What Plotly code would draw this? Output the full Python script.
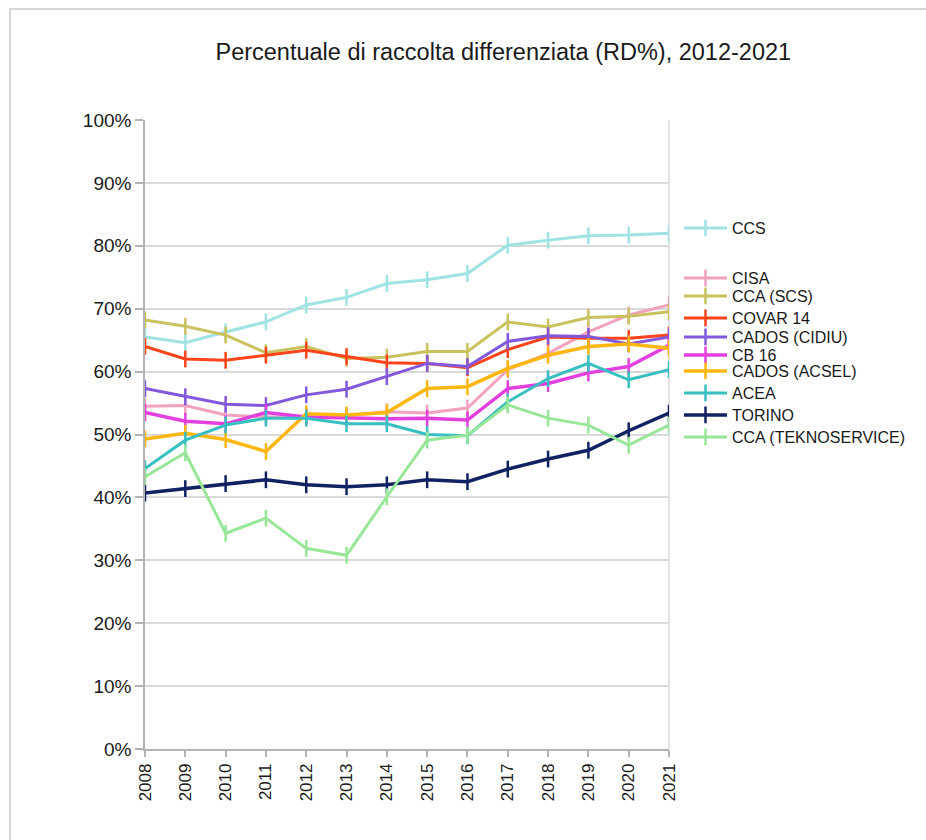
import plotly.graph_objects as go

years = list(range(2008, 2022))

series_names = ["CCS", "CISA", "CCA (SCS)", "COVAR 14", "CADOS (CIDIU)", "CB 16",
                "CADOS (ACSEL)", "ACEA", "TORINO", "CCA (TEKNOSERVICE)"]

ccs = [65.5, 64.6, 66.3, 67.9, 70.6, 71.8, 74.0, 74.6, 75.6, 80.1, 80.9, 81.6, 81.7, 82.0]
cisa = [54.5, 54.6, 53.1, 52.8, 52.8, 53.0, 53.6, 53.4, 54.2, 60.3, 62.9, 66.3, 69.0, 70.6]
cca_scs = [68.2, 67.2, 65.8, 63.0, 64.0, 62.1, 62.3, 63.2, 63.2, 67.9, 67.1, 68.6, 68.8, 69.5]
covar14 = [64.0, 62.0, 61.8, 62.6, 63.4, 62.4, 61.4, 61.3, 60.6, 63.5, 65.5, 65.3, 65.3, 65.8]
cados_cidiu = [57.3, 56.0, 54.8, 54.6, 56.3, 57.2, 59.2, 61.3, 60.8, 64.8, 65.7, 65.6, 64.4, 65.5]
cb16 = [53.5, 52.1, 51.7, 53.5, 52.8, 52.7, 52.5, 52.6, 52.3, 57.3, 58.1, 59.8, 60.8, 64.2]
cados_acsel = [49.3, 50.2, 49.2, 47.3, 53.3, 53.1, 53.5, 57.3, 57.6, 60.5, 62.6, 64.0, 64.4, 63.7]
acea = [44.6, 49.1, 51.5, 52.6, 52.6, 51.7, 51.7, 50.0, 49.8, 55.2, 58.9, 61.3, 58.7, 60.3]
torino = [40.7, 41.4, 42.2, 42.8, 42.0, 41.7, 42.0, 42.8, 42.5, 44.5, 46.1, 47.5, 50.6, 53.4]
cca_tekno = [43.3, 47.1, 34.3, 36.7, 31.9, 30.8, 40.1, 49.1, 49.9, 54.7, 52.6, 51.5, 48.3, 51.5]

y_ticks = list(range(0, 101, 10))
y_tick_labels = [f"{v}%" for v in y_ticks]

all_series = [ccs, cisa, cca_scs, covar14, cados_cidiu, cb16, cados_acsel, acea, torino, cca_tekno]

# styles
colors = ["#9fe3e3", "#f2a2bf", "#c9c25f", "#ff431a", "#8259dc", "#e33fdf",
          "#ffb70f", "#37bfc1", "#112262", "#98e698"]
widths = [3, 3, 3, 3, 3, 3.5, 3.5, 3, 3.5, 3]

# plot area in pixels
W, H = 926, 840
L, R, T, B = 145, 669, 120, 749
pw, ph = R - L, B - T

def py2paper(py):
    return (B - py) / ph

def px2paper(px):
    return (px - L) / pw

legend_item_px = [228, 278, 296, 318, 337, 355, 371, 393, 415, 437]

fig = go.Figure()
for i, (name, vals) in enumerate(zip(series_names, all_series)):
    lg = "legend" if i == 0 else f"legend{i+1}"
    fig.add_trace(go.Scatter(
        x=years, y=vals, name=name, mode="lines+markers",
        line=dict(color=colors[i], width=widths[i]),
        marker=dict(symbol="line-ns", size=12, color=colors[i],
                    line=dict(color=colors[i], width=2.5)),
        legend=lg,
    ))

legend_common = dict(
    xanchor="left", yanchor="middle",
    bgcolor="rgba(0,0,0,0)", borderwidth=0,
    font=dict(family="Liberation Sans, Arial, sans-serif", size=16, color="#1a1a1a"),
    itemwidth=43, tracegroupgap=0,
)
layout_legends = {}
for i in range(len(series_names)):
    key = "legend" if i == 0 else f"legend{i+1}"
    layout_legends[key] = dict(legend_common, x=px2paper(679),
                               y=py2paper(legend_item_px[i]))

fig.update_layout(
    width=W, height=H,
    margin=dict(l=L, r=W - R, t=T, b=H - B, pad=0),
    paper_bgcolor="white", plot_bgcolor="white",
    showlegend=True,
    title=dict(text="Percentuale di raccolta differenziata (RD%), 2012-2021",
               x=0.5435, xanchor="center", y=1 - 52 / H, yanchor="middle",
               font=dict(family="Liberation Sans, Arial", size=23.5,
                         color="#1a1a1a")),
    xaxis=dict(range=[2008, 2021], tickmode="array", tickvals=years,
               ticktext=[str(y) for y in years], tickangle=-90,
               showgrid=False, zeroline=False,
               showline=True, linecolor="#b3b3b3", linewidth=1.5,
               ticks="outside", ticklen=6, tickcolor="#b3b3b3", tickwidth=1.5,
               mirror=False,
               tickfont=dict(family="Liberation Sans, Arial", size=17, color="#1a1a1a")),
    yaxis=dict(range=[0, 100], tickmode="array", tickvals=y_ticks, ticktext=y_tick_labels,
               showgrid=True, gridcolor="#d9d9d9", gridwidth=1.5, zeroline=False,
               showline=True, linecolor="#b3b3b3", linewidth=1.5,
               ticks="outside", ticklen=8, tickcolor="#b3b3b3", tickwidth=1.5,
               tickfont=dict(family="Liberation Sans, Arial", size=19,
                             color="#1a1a1a")),
    shapes=[
        dict(type="line", xref="paper", yref="paper", x0=1, x1=1, y0=0, y1=1,
             line=dict(color="#d9d9d9", width=1.5), layer="below"),
        dict(type="rect", xref="paper", yref="paper",
             x0=px2paper(10), x1=px2paper(960), y0=py2paper(9), y1=py2paper(900),
             line=dict(color="#d6d6d6", width=2), fillcolor="rgba(0,0,0,0)", layer="below"),
    ],
    **layout_legends,
)

fig.write_html("out.html")
